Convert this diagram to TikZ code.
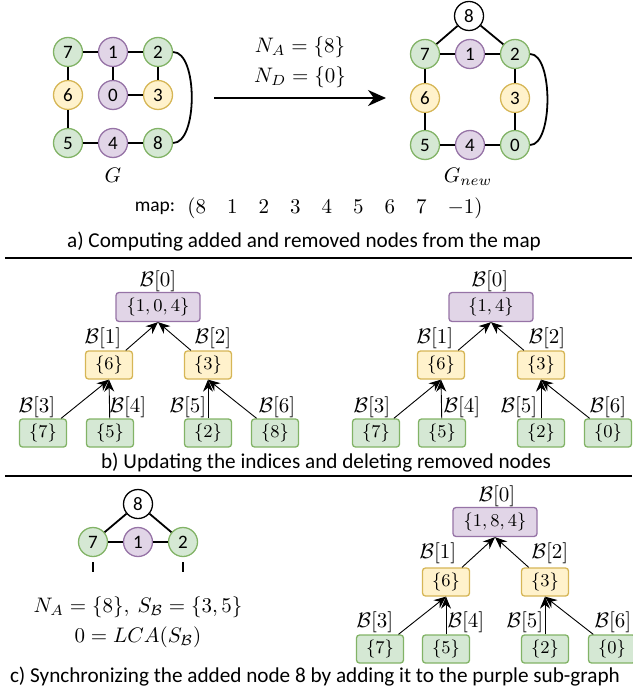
\documentclass[tikz,border=0pt]{standalone}
\usepackage{amsmath}
\usepackage{graphicx}
\usepackage{fontspec}
\setmainfont{Carlito}
\usetikzlibrary{arrows.meta}
\definecolor{pfill}{HTML}{E1D5E7}
\definecolor{pdraw}{HTML}{9673A6}
\definecolor{yfill}{HTML}{FFF2CC}
\definecolor{ydraw}{HTML}{D6B656}
\definecolor{gfill}{HTML}{D5E8D4}
\definecolor{gdraw}{HTML}{82B366}
\newcommand{\mtx}[1]{\scalebox{2.1}{$#1$}}
\newcommand{\mbx}[1]{\scalebox{2.0}{\fontsize{9}{11}\selectfont$#1$}}
\begin{document}
\begin{tikzpicture}[x=1pt,y=-1pt,
  gnode/.style={circle, draw, line width=1.3pt, minimum size=29pt, inner sep=0pt, font=\fontsize{19}{22}\selectfont},
  gp/.style={gnode, fill=pfill, draw=pdraw},
  gy/.style={gnode, fill=yfill, draw=ydraw},
  gg/.style={gnode, fill=gfill, draw=gdraw},
  gw/.style={gnode, fill=white, draw=black},
  gedge/.style={line width=1.8pt},
  tbox/.style={rectangle, rounded corners=3pt, draw, line width=1.3pt, minimum height=28pt, minimum width=47pt, inner sep=0pt},
  rbox/.style={tbox, minimum width=84pt, minimum height=29pt, fill=pfill, draw=pdraw},
  ybox/.style={tbox, fill=yfill, draw=ydraw},
  lbox/.style={tbox, fill=gfill, draw=gdraw},
  blabel/.style={inner sep=0pt},
  mtext/.style={inner sep=0pt},
  caption/.style={font=\fontsize{21.2}{25}\selectfont, inner sep=0pt},
  small/.style={font=\fontsize{19.5}{23}\selectfont, inner sep=0pt},
  tarrow/.style={-{Stealth[length=12pt,width=10pt]}, line width=0.9pt},
  sep/.style={line width=1.8pt}
]
\useasboundingbox (0,0) rectangle (632,700);

% ---------- Panel a: graph G ----------
\node[gg] (g7) at (68,52) {7};
\node[gp] (g1) at (113,52) {1};
\node[gg] (g2) at (158,52) {2};
\node[gy] (g6) at (68,95) {6};
\node[gp] (g0) at (113,95) {0};
\node[gy] (g3) at (158,95) {3};
\node[gg] (g5) at (68,143) {5};
\node[gp] (g4) at (113,143) {4};
\node[gg] (g8) at (158,143) {8};
\draw[gedge] (g7) -- (g1);
\draw[gedge] (g1) -- (g2);
\draw[gedge] (g7) -- (g6);
\draw[gedge] (g6) -- (g5);
\draw[gedge] (g5) -- (g4);
\draw[gedge] (g4) -- (g8);
\draw[gedge] (g1) -- (g0);
\draw[gedge] (g0) -- (g3);
\draw[gedge] (g2) -- (g3);
\draw[gedge] (g2.east) to[out=0,in=0,looseness=0.7] (g8.east);
\node[mtext] (gG) at (113,175) {\mtx{G}};

% ---------- Panel a: graph G_new ----------
\node[gw] (h8) at (469,16) {8};
\node[gg] (h7) at (425,54) {7};
\node[gp] (h1) at (470,54) {1};
\node[gg] (h2) at (515,54) {2};
\node[gy] (h6) at (425,98) {6};
\node[gy] (h3) at (515,98) {3};
\node[gg] (h5) at (425,145) {5};
\node[gp] (h4) at (470,145) {4};
\node[gg] (h0) at (515,145) {0};
\draw[gedge] (h8) -- (h7);
\draw[gedge] (h8) -- (h2);
\draw[gedge] (h7) -- (h1);
\draw[gedge] (h1) -- (h2);
\draw[gedge] (h7) -- (h6);
\draw[gedge] (h6) -- (h5);
\draw[gedge] (h5) -- (h4);
\draw[gedge] (h4) -- (h0);
\draw[gedge] (h2) -- (h3);
\draw[gedge] (h3) -- (h0);
\draw[gedge] (h2.east) to[out=0,in=0,looseness=0.65] (h0.east);
\node[mtext] (hG) at (468,177) {\mtx{G_{new}}};

% ---------- Panel a: arrow and map ----------
\coordinate (aS) at (214,98);
\coordinate (aE) at (386,98);
\draw[line width=2pt, -{Stealth[length=18pt,width=16pt]}] (aS) -- (aE);
\node[mtext] (na) at (300,47) {\mtx{N_A = \{8\}}};
\node[mtext] (nd) at (300,77) {\mtx{N_D = \{0\}}};
\node[small] (maplbl) at (155,208) {map:};
\node[mtext] (mapv) at (335,208) {\mtx{(8\quad 1\quad 2\quad 3\quad 4\quad 5\quad 6\quad 7\quad {-1})}};
\node[caption] (capa) at (304,242) {a) Computing added and removed nodes from the map};

\coordinate (s1a) at (5,258);
\coordinate (s1b) at (632,258);
\draw[sep] (s1a) -- (s1b);

% ---------- Panel b: left tree ----------
\node[rbox] (bLr) at (158,307) {\mbx{\{1,0,4\}}};
\node[ybox] (bL6) at (109,365) {\mbx{\{6\}}};
\node[ybox] (bL3) at (208,365) {\mbx{\{3\}}};
\node[lbox] (bL7) at (43,433) {\mbx{\{7\}}};
\node[lbox] (bL5) at (110,433) {\mbx{\{5\}}};
\node[lbox] (bL2) at (208,433) {\mbx{\{2\}}};
\node[lbox] (bL8) at (275,433) {\mbx{\{8\}}};
\node[blabel] (bLb0) at (158,281) {\mtx{\mathcal{B}[0]}};
\node[blabel] (bLb1) at (103,338) {\mtx{\mathcal{B}[1]}};
\node[blabel] (bLb2) at (213,338) {\mtx{\mathcal{B}[2]}};
\node[blabel] (bLb3) at (37,407) {\mtx{\mathcal{B}[3]}};
\node[blabel] (bLb4) at (128,407) {\mtx{\mathcal{B}[4]}};
\node[blabel] (bLb5) at (188,407) {\mtx{\mathcal{B}[5]}};
\node[blabel] (bLb6) at (277,407) {\mtx{\mathcal{B}[6]}};
\draw[tarrow] (bL6) -- (bLr.south);
\draw[tarrow] (bL3) -- (bLr.south);
\draw[tarrow] (bL7) -- (bL6.south);
\draw[tarrow] (bL5) -- (bL6.south);
\draw[tarrow] (bL2) -- (bL3.south);
\draw[tarrow] (bL8) -- (bL3.south);

% ---------- Panel b: right tree ----------
\node[rbox] (bRr) at (491,307) {\mbx{\{1,4\}}};
\node[ybox] (bR6) at (441,365) {\mbx{\{6\}}};
\node[ybox] (bR3) at (541,365) {\mbx{\{3\}}};
\node[lbox] (bR7) at (376,433) {\mbx{\{7\}}};
\node[lbox] (bR5) at (442,433) {\mbx{\{5\}}};
\node[lbox] (bR2) at (541,433) {\mbx{\{2\}}};
\node[lbox] (bR0) at (608,433) {\mbx{\{0\}}};
\node[blabel] (bRb0) at (490,281) {\mtx{\mathcal{B}[0]}};
\node[blabel] (bRb1) at (435,338) {\mtx{\mathcal{B}[1]}};
\node[blabel] (bRb2) at (547,338) {\mtx{\mathcal{B}[2]}};
\node[blabel] (bRb3) at (372,407) {\mtx{\mathcal{B}[3]}};
\node[blabel] (bRb4) at (462,407) {\mtx{\mathcal{B}[4]}};
\node[blabel] (bRb5) at (519,407) {\mtx{\mathcal{B}[5]}};
\node[blabel] (bRb6) at (608,407) {\mtx{\mathcal{B}[6]}};
\draw[tarrow] (bR6) -- (bRr.south);
\draw[tarrow] (bR3) -- (bRr.south);
\draw[tarrow] (bR7) -- (bR6.south);
\draw[tarrow] (bR5) -- (bR6.south);
\draw[tarrow] (bR2) -- (bR3.south);
\draw[tarrow] (bR0) -- (bR3.south);

\node[caption] (capb) at (326,463) {b) Updating the indices and deleting removed nodes};

\coordinate (s2a) at (5,476);
\coordinate (s2b) at (632,476);
\draw[sep] (s2a) -- (s2b);

% ---------- Panel c: left graph ----------
\node[gw] (c8) at (138,504) {8};
\node[gg] (c7) at (93,542) {7};
\node[gp] (c1) at (138,542) {1};
\node[gg] (c2) at (183,542) {2};
\draw[gedge] (c8) -- (c7);
\draw[gedge] (c8) -- (c2);
\draw[gedge] (c7) -- (c1);
\draw[gedge] (c1) -- (c2);
\coordinate (c7d) at (93,572);
\coordinate (c2d) at (183,572);
\draw[gedge, line width=1.5pt, shorten <=5pt] (c7) -- (c7d);
\draw[gedge, line width=1.5pt, shorten <=5pt] (c2) -- (c2d);
\node[mtext] (cm1) at (138,607) {\mtx{N_A = \{8\},\ S_{\mathcal{B}} = \{3,5\}}};
\node[mtext] (cm2) at (138,637) {\mtx{0 = LCA(S_{\mathcal{B}})}};

% ---------- Panel c: right tree ----------
\node[rbox] (cRr) at (495,522) {\mbx{\{1,8,4\}}};
\node[ybox] (cR6) at (446,582) {\mbx{\{6\}}};
\node[ybox] (cR3) at (545,582) {\mbx{\{3\}}};
\node[lbox] (cR7) at (380,649) {\mbx{\{7\}}};
\node[lbox] (cR5) at (446,649) {\mbx{\{5\}}};
\node[lbox] (cR2) at (545,649) {\mbx{\{2\}}};
\node[lbox] (cR0) at (612,649) {\mbx{\{0\}}};
\node[blabel] (cRb0) at (497,496) {\mtx{\mathcal{B}[0]}};
\node[blabel] (cRb1) at (438,553) {\mtx{\mathcal{B}[1]}};
\node[blabel] (cRb2) at (550,553) {\mtx{\mathcal{B}[2]}};
\node[blabel] (cRb3) at (375,622) {\mtx{\mathcal{B}[3]}};
\node[blabel] (cRb4) at (466,622) {\mtx{\mathcal{B}[4]}};
\node[blabel] (cRb5) at (525,622) {\mtx{\mathcal{B}[5]}};
\node[blabel] (cRb6) at (613,622) {\mtx{\mathcal{B}[6]}};
\draw[tarrow] (cR6) -- (cRr.south);
\draw[tarrow] (cR3) -- (cRr.south);
\draw[tarrow] (cR7) -- (cR6.south);
\draw[tarrow] (cR5) -- (cR6.south);
\draw[tarrow] (cR2) -- (cR3.south);
\draw[tarrow] (cR0) -- (cR3.south);

\node[caption] (capc) at (315,677) {c) Synchronizing the added node 8 by adding it to the purple sub-graph};
\end{tikzpicture}
\end{document}
